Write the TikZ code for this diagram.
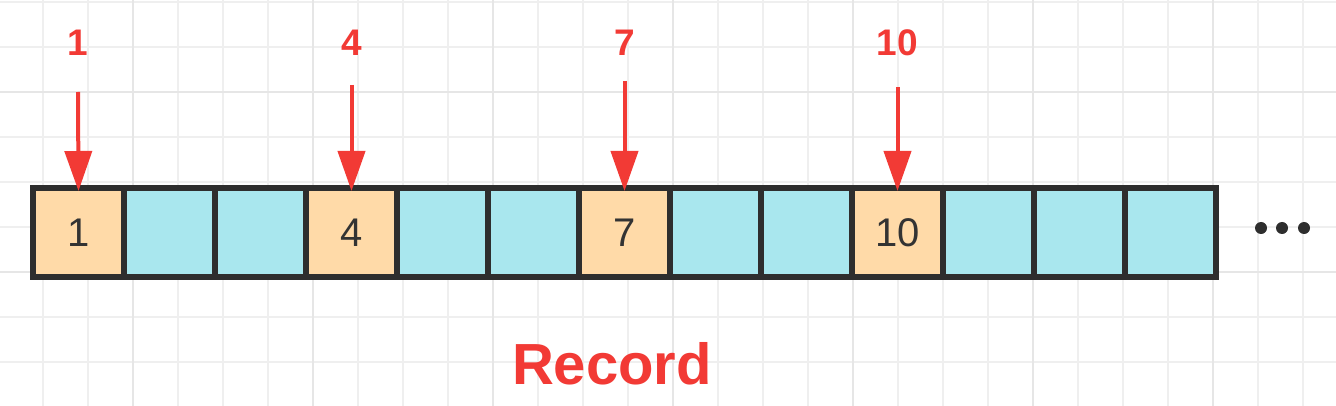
\documentclass[tikz,border=0pt]{standalone}
\usepackage{fontspec}
\setmainfont{Liberation Sans}
\usetikzlibrary{arrows.meta}
\definecolor{gridc}{HTML}{EFEFEF}
\definecolor{gridd}{HTML}{E6E6E6}
\definecolor{redc}{HTML}{F23A35}
\definecolor{orangec}{HTML}{FFDAA8}
\definecolor{cyanc}{HTML}{A9E7EE}
\definecolor{edgec}{HTML}{2E2E2E}
\definecolor{digc}{HTML}{333333}
\tikzset{
  cellbox/.style={draw=edgec, line width=6pt, minimum width=91pt, minimum height=89pt, inner sep=0pt, outer sep=0pt, anchor=west, font=\fontsize{40pt}{40pt}\selectfont, text=digc},
  hot/.style={cellbox, fill=orangec},
  cold/.style={cellbox, fill=cyanc},
  pointer/.style={draw=redc, line width=4pt, -{Triangle[width=27pt,length=40pt]}, redc},
  idxlabel/.style={text=redc, font=\bfseries\fontsize{37pt}{37pt}\selectfont, inner sep=0pt},
}
\begin{document}
\begin{tikzpicture}[x=1pt,y=-1pt]
\useasboundingbox (0,0) rectangle (1336,406);
\fill[white] (0,0) rectangle (1336,406);
% grid
\foreach \i in {0,...,28} {
  \draw[gridc, line width=2pt] ({43+45*\i},0) -- ({43+45*\i},406);
}
\foreach \j in {0,...,9} {
  \draw[gridc, line width=2pt] (0,{1.7+45*\j}) -- (1336,{1.7+45*\j});
}
\foreach \i in {0,...,6} {
  \draw[gridd, line width=2pt] ({133+180*\i},0) -- ({133+180*\i},406);
}
\foreach \j in {0,1,2} {
  \draw[gridd, line width=2pt] (0,{91.7+180*\j}) -- (1336,{91.7+180*\j});
}
% cells
\node[hot]  (c1)  at (33,232.5) {1};
\node[cold] (c2)  at (c1.east)  {};
\node[cold] (c3)  at (c2.east)  {};
\node[hot]  (c4)  at (c3.east)  {4};
\node[cold] (c5)  at (c4.east)  {};
\node[cold] (c6)  at (c5.east)  {};
\node[hot]  (c7)  at (c6.east)  {7};
\node[cold] (c8)  at (c7.east)  {};
\node[cold] (c9)  at (c8.east)  {};
\node[hot]  (c10) at (c9.east)  {10};
\node[cold] (c11) at (c10.east) {};
\node[cold] (c12) at (c11.east) {};
\node[cold] (c13) at (c12.east) {};
% pointers
\node[idxlabel] (l1)  at (78,42.5)    {1};
\node[idxlabel] (l4)  at (351.5,42.5) {4};
\node[idxlabel] (l7)  at (624.5,42.5) {7};
\node[idxlabel] (l10) at (897.5,42.5) {10};
\coordinate (s1)  at (78,92);
\coordinate (s4)  at (351.5,85);
\coordinate (s7)  at (624.5,81);
\coordinate (s10) at (897.5,87);
\draw[pointer] (s1)  -- ([yshift=-3pt]c1.north);
\draw[pointer] (s4)  -- ([yshift=-3pt]c4.north);
\draw[pointer] (s7)  -- ([yshift=-3pt]c7.north);
\draw[pointer] (s10) -- ([yshift=-3pt]c10.north);
% ellipsis
\node[inner sep=0pt] (dots) at (1282,228) {};
\fill[edgec] (1261,228) circle (6pt) (1282,228) circle (6pt) (1304,228) circle (6pt);
% caption
\node[text=redc, font=\bfseries\fontsize{58pt}{58pt}\selectfont, inner sep=0pt] (rec) at (612,364) {Record};
\end{tikzpicture}
\end{document}
